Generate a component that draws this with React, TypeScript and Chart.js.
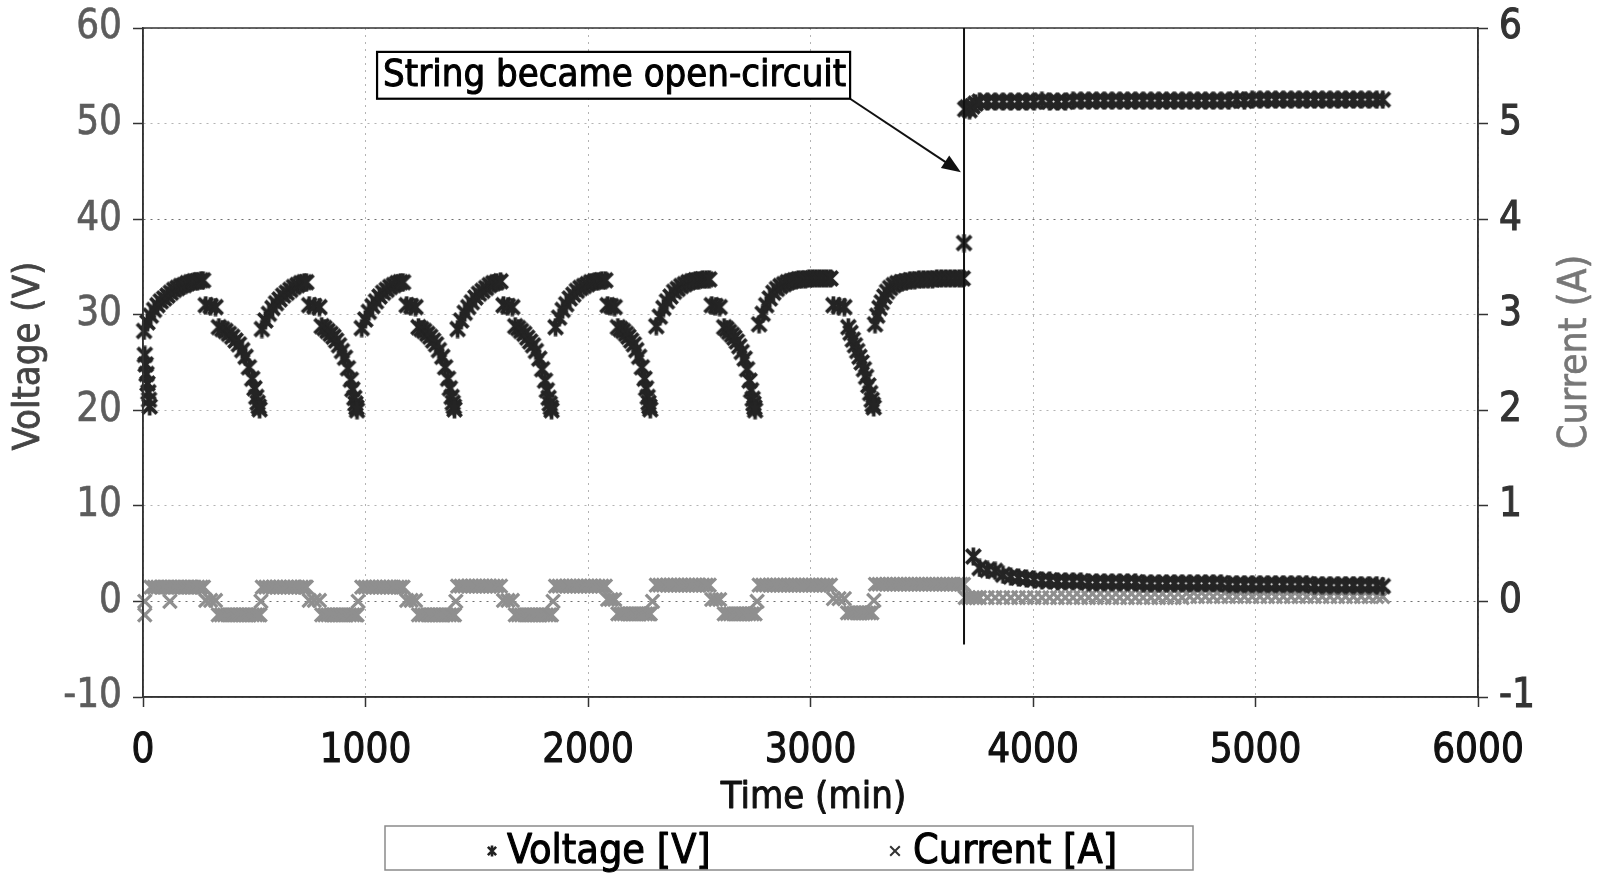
import React, { useEffect, useRef } from 'react';
import { Chart, registerables } from 'chart.js';

Chart.register(...registerables);

type P = [number, number];

const FONT = "'DejaVu Sans Condensed', 'DejaVu Sans', sans-serif";

// ---------- axis ticks ----------
const xTickLabels = ['0', '1000', '2000', '3000', '4000', '5000', '6000'];
const voltageTicks = [-10, 0, 10, 20, 30, 40, 50, 60];
const currentTicks = [-1, 0, 1, 2, 3, 4, 5, 6];
const darkerVoltageGridValues = [0, 40];

// ---------- Voltage [V] (time in min, volts) ----------
const voltageStartCluster: P[] = [[8, 25.8], [12, 24.8], [16, 23.8], [20, 22.8], [24, 21.9], [27, 21.1], [30, 20.4]];

const voltageCycle1: P[] = [
  [5, 28.3], [20, 29.2], [35, 29.9], [50, 30.5], [65, 31.0], [80, 31.4], [95, 31.7], [110, 32.0], [125, 32.3], [140, 32.6],
  [155, 32.8], [170, 33.0], [185, 33.1], [200, 33.3], [215, 33.4], [230, 33.5], [245, 33.5], [260, 33.6], [270, 33.6],
  [282, 31.0], [304, 30.9], [326, 30.8],
  [341, 28.7], [356, 28.5], [371, 28.3], [386, 28.0], [401, 27.7], [416, 27.3], [431, 26.9], [446, 26.3], [461, 25.6],
  [476, 24.5], [491, 23.3], [501, 22.3], [509, 21.4], [515, 20.8], [520, 20.4], [524, 20.1],
];

const voltageCycle2: P[] = [
  [534, 28.5], [550, 29.4], [566, 30.1], [582, 30.7], [598, 31.2], [614, 31.6], [630, 32.0], [646, 32.3], [662, 32.6],
  [678, 32.9], [694, 33.1], [710, 33.3], [724, 33.4], [734, 33.4],
  [747, 31.0], [770, 30.9], [793, 30.8],
  [803, 28.8], [816, 28.6], [829, 28.3], [843, 28.0], [856, 27.7], [868, 27.3], [881, 26.8], [894, 26.2], [908, 25.5],
  [921, 24.4], [934, 23.2], [941, 22.2], [950, 21.3], [955, 20.7], [959, 20.3], [962, 20.0],
];

const voltageCycle3: P[] = [
  [983, 28.6], [999, 29.5], [1015, 30.3], [1031, 30.9], [1047, 31.4], [1063, 31.9], [1079, 32.3], [1095, 32.6],
  [1111, 32.9], [1127, 33.1], [1143, 33.3], [1157, 33.4], [1169, 33.4],
  [1185, 31.0], [1205, 30.9], [1225, 30.8],
  [1238, 28.7], [1251, 28.5], [1264, 28.3], [1278, 28.0], [1291, 27.7], [1304, 27.3], [1317, 26.9], [1330, 26.3],
  [1345, 25.6], [1358, 24.5], [1371, 23.3], [1379, 22.3], [1387, 21.4], [1392, 20.8], [1397, 20.4], [1400, 20.1],
];

const voltageCycle4: P[] = [
  [1414, 28.5], [1430, 29.4], [1446, 30.2], [1462, 30.8], [1478, 31.3], [1494, 31.8], [1510, 32.2], [1526, 32.5],
  [1542, 32.8], [1558, 33.1], [1574, 33.3], [1590, 33.4], [1607, 33.5],
  [1620, 31.0], [1640, 30.9], [1660, 30.8],
  [1673, 28.8], [1686, 28.6], [1699, 28.3], [1714, 28.0], [1727, 27.6], [1740, 27.2], [1753, 26.8], [1766, 26.2],
  [1781, 25.4], [1794, 24.3], [1807, 23.1], [1815, 22.1], [1823, 21.3], [1828, 20.7], [1833, 20.3], [1836, 20.0],
];

const voltageCycle5: P[] = [
  [1854, 28.7], [1870, 29.7], [1886, 30.5], [1902, 31.1], [1918, 31.7], [1934, 32.1], [1950, 32.5], [1966, 32.8],
  [1982, 33.0], [1998, 33.2], [2014, 33.4], [2030, 33.5], [2046, 33.5], [2062, 33.6], [2078, 33.6],
  [2088, 31.0], [2104, 30.9], [2120, 30.8],
  [2134, 28.7], [2146, 28.5], [2158, 28.3], [2171, 28.0], [2182, 27.7], [2194, 27.3], [2206, 26.9], [2217, 26.3],
  [2230, 25.6], [2242, 24.5], [2254, 23.3], [2261, 22.3], [2268, 21.4], [2272, 20.8], [2276, 20.4], [2280, 20.1],
];

const voltageCycle6: P[] = [
  [2307, 28.8], [2323, 29.8], [2339, 30.7], [2355, 31.4], [2371, 31.9], [2387, 32.4], [2403, 32.7], [2419, 33.0],
  [2435, 33.2], [2451, 33.4], [2467, 33.5], [2483, 33.6], [2499, 33.6], [2515, 33.7], [2531, 33.7], [2545, 33.7],
  [2556, 31.0], [2574, 30.9], [2592, 30.8],
  [2612, 28.7], [2623, 28.5], [2634, 28.2], [2647, 27.9], [2658, 27.6], [2669, 27.2], [2680, 26.7], [2691, 26.1],
  [2704, 25.4], [2715, 24.3], [2726, 23.1], [2733, 22.1], [2740, 21.2], [2744, 20.7], [2748, 20.3], [2751, 20.0],
];

const voltageCycle7: P[] = [
  [2769, 29.0], [2785, 30.1], [2801, 31.0], [2817, 31.7], [2833, 32.3], [2849, 32.7], [2865, 33.0], [2881, 33.2],
  [2897, 33.4], [2913, 33.5], [2929, 33.6], [2945, 33.7], [2961, 33.7], [2977, 33.7], [2993, 33.8], [3009, 33.8],
  [3025, 33.8], [3041, 33.8], [3057, 33.8], [3073, 33.8], [3090, 33.8],
  [3103, 31.0], [3128, 30.9], [3152, 30.8],
  [3170, 28.7], [3180, 28.1], [3190, 27.4], [3200, 26.8], [3210, 26.2], [3220, 25.6], [3230, 25.0], [3240, 24.3],
  [3250, 23.5], [3260, 22.6], [3268, 21.8], [3275, 21.1], [3280, 20.6], [3284, 20.3],
];

const voltageCycle8: P[] = [
  [3290, 29.0], [3300, 29.9], [3310, 30.7], [3320, 31.3], [3332, 31.9], [3344, 32.4], [3358, 32.8], [3374, 33.1],
  [3390, 33.3], [3408, 33.4], [3428, 33.5], [3448, 33.6], [3468, 33.6], [3488, 33.7], [3508, 33.7], [3528, 33.7],
  [3548, 33.7], [3568, 33.8], [3588, 33.8], [3608, 33.8], [3628, 33.8], [3648, 33.8], [3668, 33.8], [3684, 33.8],
  [3690, 37.5],
];

const voltageOpenStart: P[] = [[3695, 51.5], [3705, 51.7], [3715, 51.4], [3728, 51.8], [3742, 52.1], [3732, 4.7]];

const openCircuitTimes = [
  3760, 3795, 3830, 3865, 3900, 3935, 3970, 4005, 4040, 4075, 4110, 4145, 4180, 4215, 4250, 4285, 4320, 4355,
  4390, 4425, 4460, 4495, 4530, 4565, 4600, 4635, 4670, 4705, 4740, 4775, 4810, 4845, 4880, 4915, 4950, 4985,
  5020, 5055, 5090, 5125, 5160, 5195, 5230, 5265, 5300, 5335, 5370, 5405, 5440, 5475, 5510, 5545, 5572,
];
const openCircuitVoltage = [
  52.3, 52.3, 52.3, 52.3, 52.3, 52.3, 52.3, 52.3, 52.4, 52.3, 52.3, 52.3, 52.4, 52.4, 52.4, 52.4, 52.4, 52.4,
  52.4, 52.4, 52.4, 52.4, 52.4, 52.4, 52.4, 52.4, 52.4, 52.4, 52.4, 52.4, 52.4, 52.4, 52.4, 52.5, 52.4, 52.5,
  52.5, 52.5, 52.5, 52.5, 52.5, 52.5, 52.5, 52.5, 52.5, 52.5, 52.5, 52.5, 52.5, 52.5, 52.5, 52.5, 52.5,
];
const openCircuitLowVoltage = [
  3.5, 3.3, 3.2, 2.8, 2.6, 2.5, 2.4, 2.3, 2.2, 2.2, 2.1, 2.1, 2.1, 2.1, 2.0, 2.0, 2.0, 2.0,
  2.0, 2.0, 2.0, 1.9, 1.9, 1.9, 1.9, 1.9, 1.9, 1.9, 1.9, 1.9, 1.9, 1.9, 1.8, 1.8, 1.8, 1.8,
  1.8, 1.8, 1.8, 1.8, 1.8, 1.8, 1.8, 1.7, 1.7, 1.7, 1.7, 1.7, 1.7, 1.7, 1.7, 1.7, 1.6,
];

// ---------- Current [A] (time in min, amps) ----------
const currentCycle1: P[] = [
  [8, 0.0], [8, -0.14],
  [36, 0.15], [51, 0.15], [66, 0.15], [81, 0.15], [96, 0.15], [111, 0.15], [121, 0.0], [126, 0.15], [141, 0.15],
  [156, 0.15], [171, 0.15], [186, 0.15], [201, 0.15], [216, 0.15], [231, 0.15], [246, 0.15], [261, 0.15], [272, 0.15],
  [282, 0.01], [304, 0.01], [326, 0.01],
  [338, -0.14], [352, -0.14], [366, -0.14], [380, -0.14], [394, -0.14], [408, -0.14], [422, -0.14], [436, -0.14],
  [450, -0.14], [464, -0.14], [478, -0.14], [492, -0.14], [506, -0.14], [518, -0.14], [526, -0.14],
  [530, 0.0],
];
const currentCycle2: P[] = [
  [536, 0.15], [552, 0.15], [568, 0.15], [584, 0.15], [600, 0.15], [616, 0.15], [632, 0.15], [648, 0.15], [664, 0.15],
  [680, 0.15], [696, 0.15], [712, 0.15], [726, 0.15], [734, 0.15],
  [747, 0.01], [770, 0.01], [793, 0.01],
  [803, -0.14], [817, -0.14], [831, -0.14], [845, -0.14], [859, -0.14], [873, -0.14], [887, -0.14], [901, -0.14],
  [915, -0.14], [929, -0.14], [943, -0.14], [955, -0.14], [962, -0.14],
  [967, 0.0],
];
const currentCycle3: P[] = [
  [983, 0.15], [999, 0.15], [1015, 0.15], [1031, 0.15], [1047, 0.15], [1063, 0.15], [1079, 0.15], [1095, 0.15],
  [1111, 0.15], [1127, 0.15], [1143, 0.15], [1157, 0.15], [1169, 0.15],
  [1185, 0.01], [1205, 0.01], [1225, 0.01],
  [1238, -0.14], [1252, -0.14], [1266, -0.14], [1280, -0.14], [1294, -0.14], [1308, -0.14], [1322, -0.14],
  [1336, -0.14], [1350, -0.14], [1364, -0.14], [1378, -0.14], [1392, -0.14], [1400, -0.14],
  [1406, 0.0],
];
const currentCycle4: P[] = [
  [1414, 0.16], [1430, 0.16], [1446, 0.16], [1462, 0.16], [1478, 0.16], [1494, 0.16], [1510, 0.16], [1526, 0.16],
  [1542, 0.16], [1558, 0.16], [1574, 0.16], [1590, 0.16], [1607, 0.16],
  [1620, 0.01], [1640, 0.01], [1660, 0.01],
  [1673, -0.14], [1687, -0.14], [1701, -0.14], [1715, -0.14], [1729, -0.14], [1743, -0.14], [1757, -0.14],
  [1771, -0.14], [1785, -0.14], [1799, -0.14], [1813, -0.14], [1827, -0.14], [1836, -0.14],
  [1843, 0.0],
];
const currentCycle5: P[] = [
  [1854, 0.16], [1870, 0.16], [1886, 0.16], [1902, 0.16], [1918, 0.16], [1934, 0.16], [1950, 0.16], [1966, 0.16],
  [1982, 0.16], [1998, 0.16], [2014, 0.16], [2030, 0.16], [2046, 0.16], [2062, 0.16], [2078, 0.16],
  [2088, 0.02], [2104, 0.02], [2120, 0.02],
  [2134, -0.13], [2148, -0.13], [2162, -0.13], [2176, -0.13], [2190, -0.13], [2204, -0.13], [2218, -0.13],
  [2232, -0.13], [2246, -0.13], [2260, -0.13], [2272, -0.13], [2280, -0.13],
  [2290, 0.0],
];
const currentCycle6: P[] = [
  [2307, 0.17], [2323, 0.17], [2339, 0.17], [2355, 0.17], [2371, 0.17], [2387, 0.17], [2403, 0.17], [2419, 0.17],
  [2435, 0.17], [2451, 0.17], [2467, 0.17], [2483, 0.17], [2499, 0.17], [2515, 0.17], [2531, 0.17], [2545, 0.17],
  [2556, 0.02], [2574, 0.02], [2592, 0.02],
  [2612, -0.13], [2626, -0.13], [2640, -0.13], [2654, -0.13], [2668, -0.13], [2682, -0.13], [2696, -0.13],
  [2710, -0.13], [2724, -0.13], [2738, -0.13], [2751, -0.13],
  [2760, 0.0],
];
const currentCycle7: P[] = [
  [2769, 0.17], [2785, 0.17], [2801, 0.17], [2817, 0.17], [2833, 0.17], [2849, 0.17], [2865, 0.17], [2881, 0.17],
  [2897, 0.17], [2913, 0.17], [2929, 0.17], [2945, 0.17], [2961, 0.17], [2977, 0.17], [2993, 0.17], [3009, 0.17],
  [3025, 0.17], [3041, 0.17], [3057, 0.17], [3073, 0.17], [3090, 0.17],
  [3103, 0.03], [3128, 0.03], [3152, 0.03],
  [3166, -0.12], [3180, -0.12], [3194, -0.12], [3208, -0.12], [3222, -0.12], [3236, -0.12], [3250, -0.12],
  [3264, -0.12], [3276, -0.12],
  [3285, 0.01],
];
const currentCycle8: P[] = [
  [3292, 0.18], [3308, 0.18], [3324, 0.18], [3340, 0.18], [3356, 0.18], [3372, 0.18], [3388, 0.18], [3404, 0.18],
  [3420, 0.18], [3436, 0.18], [3452, 0.18], [3468, 0.18], [3484, 0.18], [3500, 0.18], [3516, 0.18], [3532, 0.18],
  [3548, 0.18], [3564, 0.18], [3580, 0.18], [3596, 0.18], [3612, 0.18], [3628, 0.18], [3644, 0.18], [3660, 0.18],
  [3676, 0.18], [3688, 0.18],
];
const currentOpenStart: P[] = [[3695, 0.04], [3710, 0.04], [3728, 0.04], [3744, 0.04]];
const openCircuitCurrent = [
  0.04, 0.04, 0.04, 0.04, 0.04, 0.04, 0.04, 0.04, 0.04, 0.04, 0.04, 0.04, 0.04, 0.04, 0.04, 0.04, 0.04, 0.04,
  0.04, 0.04, 0.04, 0.04, 0.04, 0.04, 0.04, 0.04, 0.04, 0.05, 0.05, 0.05, 0.05, 0.05, 0.05, 0.05, 0.05, 0.05,
  0.05, 0.05, 0.05, 0.05, 0.05, 0.05, 0.05, 0.05, 0.05, 0.05, 0.05, 0.05, 0.05, 0.05, 0.05, 0.05, 0.05,
];

// ---------- annotation (data coordinates) ----------
const openCircuitTime = 3690;
const openLineVoltageTop = 60;
const openLineVoltageBottom = -4.5;
const annotationText = 'String became open-circuit';
const annotationBox = { tLeft: 1052, tRight: 3178, vTop: 57.5, vBottom: 52.6 };
const arrowTip = { t: 3676, v: 44.9 };

const toXY = (arr: P[]) => arr.map(([x, y]) => ({ x, y }));
const zip = (ts: number[], vs: number[]) => ts.map((t, i) => ({ x: t, y: vs[i] }));

const voltagePoints = [
  ...toXY(voltageStartCluster), ...toXY(voltageCycle1), ...toXY(voltageCycle2), ...toXY(voltageCycle3),
  ...toXY(voltageCycle4), ...toXY(voltageCycle5), ...toXY(voltageCycle6), ...toXY(voltageCycle7),
  ...toXY(voltageCycle8), ...toXY(voltageOpenStart),
  ...zip(openCircuitTimes, openCircuitVoltage), ...zip(openCircuitTimes, openCircuitLowVoltage),
];
const currentPoints = [
  ...toXY(currentCycle1), ...toXY(currentCycle2), ...toXY(currentCycle3), ...toXY(currentCycle4),
  ...toXY(currentCycle5), ...toXY(currentCycle6), ...toXY(currentCycle7), ...toXY(currentCycle8),
  ...toXY(currentOpenStart), ...zip(openCircuitTimes, openCircuitCurrent),
];

// Excel-like "star" marker: an X crossed by a vertical bar
function makeStarMarker(size: number, color: string, lw: number) {
  const c = document.createElement('canvas');
  c.width = size;
  c.height = size;
  const g = c.getContext('2d')!;
  const m = lw / 2 + 0.5;
  g.strokeStyle = color;
  g.lineWidth = lw;
  g.lineCap = 'butt';
  g.beginPath();
  g.moveTo(m, m); g.lineTo(size - m, size - m);
  g.moveTo(m, size - m); g.lineTo(size - m, m);
  g.moveTo(size / 2, 0.5); g.lineTo(size / 2, size - 0.5);
  g.stroke();
  return c;
}

function drawStrokedText(ctx: CanvasRenderingContext2D, text: string, x: number, y: number, color: string, sw: number) {
  ctx.fillStyle = color;
  ctx.fillText(text, x, y);
  if (sw > 0) {
    ctx.strokeStyle = color;
    ctx.lineWidth = sw;
    ctx.lineJoin = 'round';
    ctx.strokeText(text, x, y);
  }
}

const noLabelPadding = (s: any) => {
  s.paddingTop = 0;
  s.paddingBottom = 0;
  s.paddingLeft = 0;
  s.paddingRight = 0;
};

const annotationPlugin = {
  id: 'openCircuitAnnotation',
  afterDatasetsDraw(chart: any) {
    const { ctx, chartArea: a, scales } = chart;
    const xs = scales.x;
    const ys = scales.y;
    ctx.save();
    // plot frame
    ctx.strokeStyle = '#333';
    ctx.lineWidth = 1.5;
    ctx.setLineDash([]);
    ctx.strokeRect(a.left, a.top, a.right - a.left, a.bottom - a.top);

    // vertical open-circuit line
    const vx = xs.getPixelForValue(openCircuitTime);
    ctx.strokeStyle = '#111';
    ctx.lineWidth = 2;
    ctx.beginPath();
    ctx.moveTo(vx, ys.getPixelForValue(openLineVoltageTop));
    ctx.lineTo(vx, ys.getPixelForValue(openLineVoltageBottom));
    ctx.stroke();

    // box
    const bx0 = xs.getPixelForValue(annotationBox.tLeft);
    const bx1 = xs.getPixelForValue(annotationBox.tRight);
    const by0 = ys.getPixelForValue(annotationBox.vTop);
    const by1 = ys.getPixelForValue(annotationBox.vBottom);

    // arrow
    const ax = xs.getPixelForValue(arrowTip.t);
    const ay = ys.getPixelForValue(arrowTip.v);
    const ang = Math.atan2(ay - by1, ax - bx1);
    const headLen = 19;
    const headHalf = 7.5;
    ctx.strokeStyle = '#111';
    ctx.lineWidth = 2;
    ctx.beginPath();
    ctx.moveTo(bx1, by1);
    ctx.lineTo(ax - Math.cos(ang) * headLen * 0.8, ay - Math.sin(ang) * headLen * 0.8);
    ctx.stroke();
    ctx.fillStyle = '#111';
    ctx.beginPath();
    ctx.moveTo(ax, ay);
    ctx.lineTo(ax - Math.cos(ang) * headLen - Math.sin(ang) * headHalf, ay - Math.sin(ang) * headLen + Math.cos(ang) * headHalf);
    ctx.lineTo(ax - Math.cos(ang) * headLen + Math.sin(ang) * headHalf, ay - Math.sin(ang) * headLen - Math.cos(ang) * headHalf);
    ctx.closePath();
    ctx.fill();

    ctx.fillStyle = '#fff';
    ctx.fillRect(bx0, by0, bx1 - bx0, by1 - by0);
    ctx.save();
    ctx.beginPath();
    ctx.rect(bx0, by0, bx1 - bx0, by1 - by0);
    ctx.clip();
    ctx.font = `38px ${FONT}`;
    ctx.textAlign = 'left';
    ctx.textBaseline = 'middle';
    drawStrokedText(ctx, annotationText, bx0 + 6, (by0 + by1) / 2 + 1, '#000', 1);
    ctx.restore();
    ctx.strokeStyle = '#000';
    ctx.lineWidth = 2.2;
    ctx.strokeRect(bx0, by0, bx1 - bx0, by1 - by0);
    ctx.restore();
  },
  afterDraw(chart: any) {
    const { ctx, chartArea: a } = chart;
    ctx.save();
    ctx.textAlign = 'center';
    ctx.textBaseline = 'middle';
    // axis titles
    ctx.font = `38px ${FONT}`;
    drawStrokedText(ctx, 'Time (min)', (a.left + a.right) / 2 + 3, 798, '#111', 0.9);
    ctx.save();
    ctx.translate(29, 356);
    ctx.rotate(-Math.PI / 2);
    drawStrokedText(ctx, 'Voltage (V)', 0, 0, '#444', 0.8);
    ctx.restore();
    ctx.save();
    ctx.translate(1576, 352);
    ctx.rotate(-Math.PI / 2);
    ctx.font = `39px ${FONT}`;
    drawStrokedText(ctx, 'Current (A)', 0, 0, '#777', 0.6);
    ctx.restore();
    ctx.restore();

    // legend
    ctx.save();
    ctx.strokeStyle = '#8a8a8a';
    ctx.lineWidth = 1.5;
    ctx.strokeRect(385, 826, 808, 44);
    const my = 851;
    ctx.strokeStyle = '#222';
    ctx.lineWidth = 2.6;
    ctx.beginPath();
    const r = 5.5;
    const d = r * 0.75;
    ctx.moveTo(492, my - r); ctx.lineTo(492, my + r);
    ctx.moveTo(492 - d, my - d); ctx.lineTo(492 + d, my + d);
    ctx.moveTo(492 - d, my + d); ctx.lineTo(492 + d, my - d);
    ctx.stroke();
    ctx.strokeStyle = '#333';
    ctx.lineWidth = 2;
    ctx.beginPath();
    const c = 4.8;
    ctx.moveTo(895 - c, my - c); ctx.lineTo(895 + c, my + c);
    ctx.moveTo(895 - c, my + c); ctx.lineTo(895 + c, my - c);
    ctx.stroke();
    ctx.font = `41px ${FONT}`;
    ctx.textAlign = 'left';
    ctx.textBaseline = 'middle';
    drawStrokedText(ctx, 'Voltage [V]', 507, my + 1, '#000', 1);
    drawStrokedText(ctx, 'Current [A]', 913, my + 1, '#000', 1);
    ctx.restore();
  },
};

export default function App() {
  const ref = useRef<HTMLCanvasElement | null>(null);
  useEffect(() => {
    document.body.style.margin = '0';
    const canvas = ref.current;
    if (!canvas) return;
    const starMarker = makeStarMarker(19, '#242424', 3.7);
    const chart = new Chart(canvas, {
      type: 'scatter',
      data: {
        datasets: [
          {
            label: 'Voltage [V]',
            data: voltagePoints,
            yAxisID: 'y',
            pointStyle: starMarker,
            pointRadius: 9,
            borderColor: '#242424',
            backgroundColor: '#242424',
            showLine: false,
            clip: false,
          } as any,
          {
            label: 'Current [A]',
            data: currentPoints,
            yAxisID: 'y1',
            pointStyle: 'crossRot',
            pointRadius: 9.5,
            pointBorderWidth: 3.2,
            borderWidth: 3.2,
            borderColor: '#8f8f8f',
            backgroundColor: '#8f8f8f',
            pointBorderColor: '#8f8f8f',
            showLine: false,
            clip: false,
          } as any,
        ],
      },
      options: {
        animation: false,
        responsive: false,
        maintainAspectRatio: false,
        events: [],
        layout: { padding: { top: 28, left: 0, right: 0, bottom: 0 } },
        plugins: { legend: { display: false }, tooltip: { enabled: false } },
        scales: {
          x: {
            type: 'linear',
            position: 'bottom',
            min: 0,
            max: 6000,
            ticks: {
              stepSize: 1000,
              color: '#111',
              padding: 21,
              font: { family: FONT, size: 40 },
              textStrokeColor: '#111',
              textStrokeWidth: 1,
              callback: (_v: any, i: number) => xTickLabels[i],
            },
            grid: { color: '#b3b3b3', lineWidth: 1, tickLength: 10, tickColor: '#333', tickWidth: 1.5 },
            border: { display: true, color: '#333', width: 1.5, dash: [2, 5] },
            title: { display: false },
            afterFit: (s: any) => { s.height = 176; noLabelPadding(s); },
          },
          y: {
            position: 'left',
            min: -10,
            max: 60,
            afterBuildTicks: (s: any) => { s.ticks = voltageTicks.map((v) => ({ value: v })); },
            ticks: { color: '#5c5c5c', padding: 11, font: { family: FONT, size: 40 }, textStrokeColor: '#5c5c5c', textStrokeWidth: 0.6 },
            grid: {
              color: (c: any) => (c.tick && darkerVoltageGridValues.includes(c.tick.value) ? '#6f6f6f' : '#b3b3b3'),
              lineWidth: 1,
              tickLength: 10,
              tickColor: '#333',
              tickWidth: 1.5,
            },
            border: { display: true, color: '#333', width: 1.5, dash: [2, 5] },
            title: { display: false },
            afterFit: (s: any) => { s.width = 143; noLabelPadding(s); },
          },
          y1: {
            position: 'right',
            min: -1,
            max: 6,
            afterBuildTicks: (s: any) => { s.ticks = currentTicks.map((v) => ({ value: v })); },
            ticks: { color: '#333', padding: 11, font: { family: FONT, size: 40 }, textStrokeColor: '#333', textStrokeWidth: 1 },
            grid: { drawOnChartArea: false, tickLength: 10, tickColor: '#333', tickWidth: 1.5 },
            border: { display: true, color: '#333', width: 1.5 },
            afterFit: (s: any) => { s.width = 121; noLabelPadding(s); },
          },
        },
      } as any,
      plugins: [annotationPlugin],
    });
    return () => chart.destroy();
  }, []);
  return (
    <div style={{ width: 1599, height: 873, background: '#fff' }}>
      <canvas ref={ref} width={1599} height={873} style={{ display: 'block' }} />
    </div>
  );
}
